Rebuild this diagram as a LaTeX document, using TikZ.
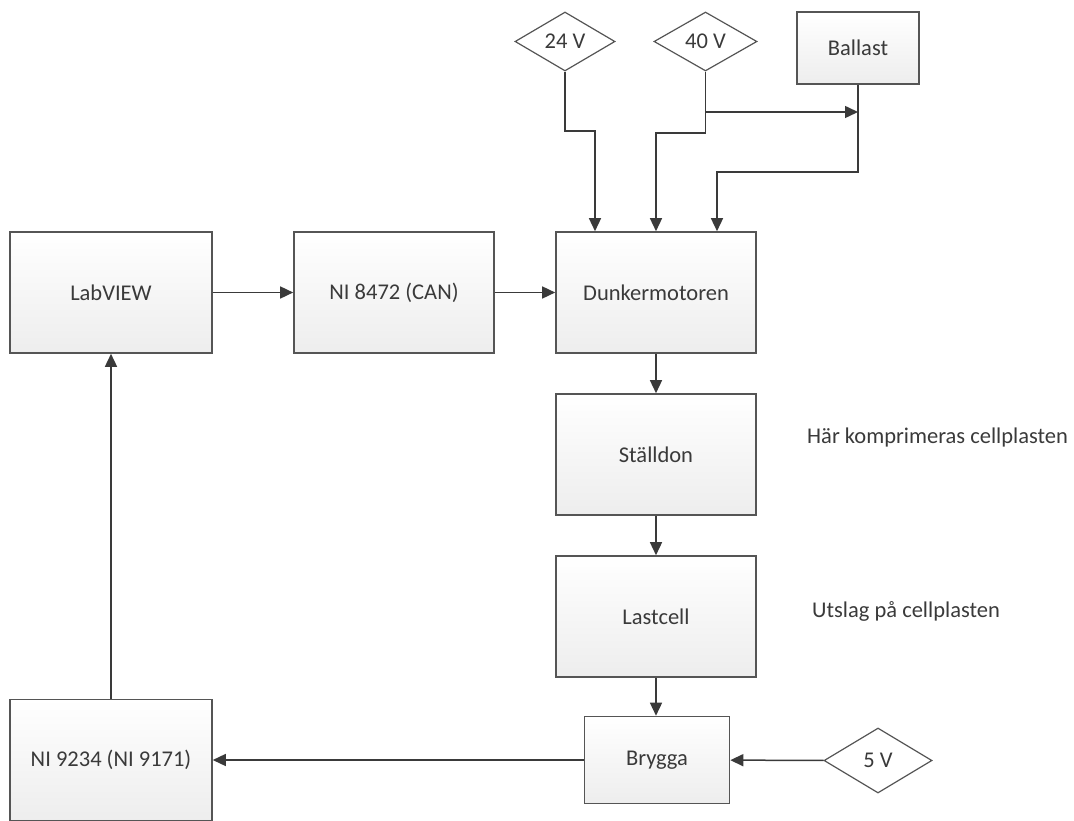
\documentclass[tikz,border=0pt]{standalone}
\usepackage{fontspec}
\setmainfont{Carlito}
\usetikzlibrary{shapes.geometric,arrows.meta}
\definecolor{txt}{HTML}{3A3A3A}
\definecolor{edge}{HTML}{555555}
\tikzset{
  blk/.style={draw=edge, line width=1.6pt, top color=white, bottom color=black!7, text=txt,
    minimum width=202pt, minimum height=121pt, inner sep=0pt, font=\fontsize{22.5}{26}\selectfont},
  dia/.style={diamond, draw=edge, line width=1.2pt, fill=white, text=txt, inner sep=0pt,
    font=\fontsize{22.5}{26}\selectfont},
  lbl/.style={text=txt, inner sep=0pt, font=\fontsize{22.5}{26}\selectfont},
  arr/.style={draw=txt, line width=1.5pt, -{Triangle[length=13pt,width=12pt]}},
  ln/.style={draw=txt, line width=1.5pt}
}
\begin{document}
\begin{tikzpicture}[x=1pt,y=-1pt]
\useasboundingbox (0,0) rectangle (1074,821);
\node[blk] (lab) at (111,292.5) {LabVIEW};
\node[blk, minimum width=200pt] (can) at (394,292.5) {NI 8472 (CAN)};
\node[blk, minimum width=200pt] (dunk) at (656,292.5) {Dunkermotoren};
\node[blk, minimum width=200pt] (stall) at (656,454.5) {Ställdon};
\node[blk, minimum width=200pt] (last) at (656,616.5) {Lastcell};
\node[blk, minimum width=145pt, minimum height=87pt] (bry) at (657,760) {Brygga};
\node[blk] (ni) at (111,760) {NI 9234 (NI 9171)};
\node[blk, minimum width=122pt, minimum height=72pt] (bal) at (858,48) {Ballast};
\node[dia, minimum width=100pt, minimum height=59pt] (v24) at (565,41.5) {24 V};
\node[dia, minimum width=103pt, minimum height=59pt] (v40) at (705.5,41.5) {40 V};
\node[dia, minimum width=108pt, minimum height=65pt] (v5) at (878,760.5) {5 V};
\node[lbl, anchor=west] (t1) at (807,438) {Här komprimeras cellplasten};
\node[lbl, anchor=west] (t2) at (812,611) {Utslag på cellplasten};
\coordinate (bj) at (858,112);
\draw[arr] (v24.south) -- (v24.south |- 0,131) -| ([xshift=-61pt]dunk.north);
\draw[arr] (v40.south) -- (v40.south |- 0,133) -| (dunk.north);
\draw[arr] (v40.south |- bj) -- (bj);
\draw[arr] (bal.south) -- (bal.south |- 0,172) -| ([xshift=61pt]dunk.north);
\draw[arr] (lab) -- (can);
\draw[arr] (can) -- (dunk);
\draw[arr] (dunk) -- (stall);
\draw[arr] (stall) -- (last);
\draw[arr] (last.south) -- (last.south |- bry.north);
\draw[arr] (v5) -- (bry);
\draw[arr] (bry) -- (ni);
\draw[arr] (ni) -- (lab);
\end{tikzpicture}
\end{document}
